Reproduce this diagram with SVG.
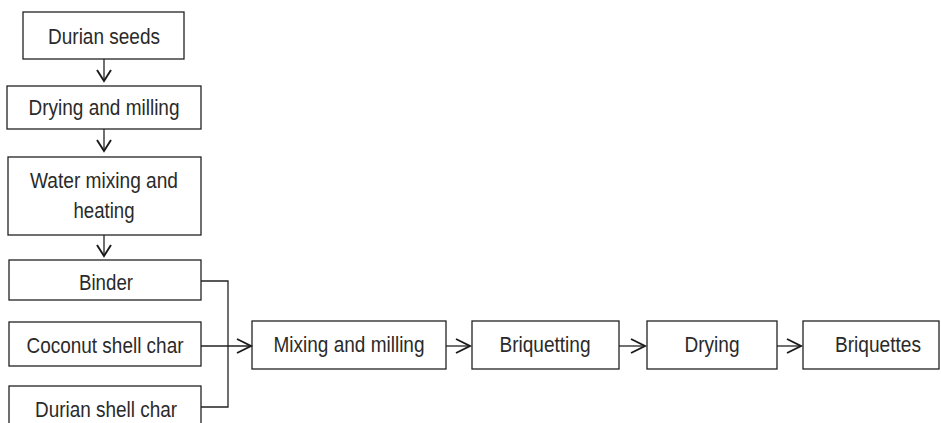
<svg xmlns="http://www.w3.org/2000/svg" width="941" height="423" viewBox="0 0 941 423">
  <style>
    .box { fill: #fff; stroke: #222; stroke-width: 1.3; }
    .lbl { font-family: "Liberation Sans", Arial, sans-serif; font-size: 22px; fill: #2a2a2a; text-anchor: middle; }
    .wire { fill: none; stroke: #222; stroke-width: 1.3; }
    .head { fill: none; stroke: #1a1a1a; stroke-width: 1.9; stroke-linejoin: miter; }
  </style>
  <rect width="941" height="423" fill="#fff"/>

  <g id="durian-seeds">
    <rect class="box" x="23" y="12" width="161" height="47"/>
    <text class="lbl" x="104" y="44" textLength="112" lengthAdjust="spacingAndGlyphs">Durian seeds</text>
  </g>
  <g id="drying-milling">
    <rect class="box" x="7" y="86" width="194" height="43"/>
    <text class="lbl" x="104" y="115" textLength="151" lengthAdjust="spacingAndGlyphs">Drying and milling</text>
  </g>
  <g id="water-mixing">
    <rect class="box" x="8" y="157" width="193" height="78"/>
    <text class="lbl" x="104" y="188" textLength="148" lengthAdjust="spacingAndGlyphs">Water mixing and</text>
    <text class="lbl" x="104" y="218" textLength="61" lengthAdjust="spacingAndGlyphs">heating</text>
  </g>
  <g id="binder">
    <rect class="box" x="9" y="260" width="192" height="40"/>
    <text class="lbl" x="106" y="290" textLength="54" lengthAdjust="spacingAndGlyphs">Binder</text>
  </g>
  <g id="coconut-char">
    <rect class="box" x="9" y="322" width="192" height="44"/>
    <text class="lbl" x="105" y="353" textLength="157" lengthAdjust="spacingAndGlyphs">Coconut shell char</text>
  </g>
  <g id="durian-char">
    <rect class="box" x="9" y="386" width="192" height="44"/>
    <text class="lbl" x="106" y="417" textLength="142" lengthAdjust="spacingAndGlyphs">Durian shell char</text>
  </g>
  <g id="mixing-milling">
    <rect class="box" x="252" y="321" width="194" height="48"/>
    <text class="lbl" x="349" y="352" textLength="151" lengthAdjust="spacingAndGlyphs">Mixing and milling</text>
  </g>
  <g id="briquetting">
    <rect class="box" x="472" y="321" width="147" height="48"/>
    <text class="lbl" x="545" y="352" textLength="91" lengthAdjust="spacingAndGlyphs">Briquetting</text>
  </g>
  <g id="drying">
    <rect class="box" x="647" y="321" width="130" height="48"/>
    <text class="lbl" x="712" y="352" textLength="55" lengthAdjust="spacingAndGlyphs">Drying</text>
  </g>
  <g id="briquettes">
    <rect class="box" x="803" y="321" width="136" height="48"/>
    <text class="lbl" x="878" y="352" textLength="86" lengthAdjust="spacingAndGlyphs">Briquettes</text>
  </g>

  <g id="connectors">
    <!-- vertical chain -->
    <line class="wire" x1="104" y1="59" x2="104" y2="81"/>
    <polyline class="head" points="97,70 104,81 111,70"/>
    <line class="wire" x1="104" y1="129" x2="104" y2="151"/>
    <polyline class="head" points="97,140 104,151 111,140"/>
    <line class="wire" x1="104" y1="235" x2="104" y2="256"/>
    <polyline class="head" points="97,245 104,256 111,245"/>
    <!-- bracket joining the three inputs -->
    <polyline class="wire" points="201,281 228,281 228,407 201,407"/>
    <line class="wire" x1="201" y1="346" x2="251" y2="346"/>
    <polyline class="head" points="237,339 251,346 237,353"/>
    <!-- horizontal chain -->
    <line class="wire" x1="446" y1="346" x2="470" y2="346"/>
    <polyline class="head" points="456,339 470,346 456,353"/>
    <line class="wire" x1="619" y1="346" x2="645" y2="346"/>
    <polyline class="head" points="631,339 645,346 631,353"/>
    <line class="wire" x1="777" y1="346" x2="801" y2="346"/>
    <polyline class="head" points="787,339 801,346 787,353"/>
  </g>
</svg>
